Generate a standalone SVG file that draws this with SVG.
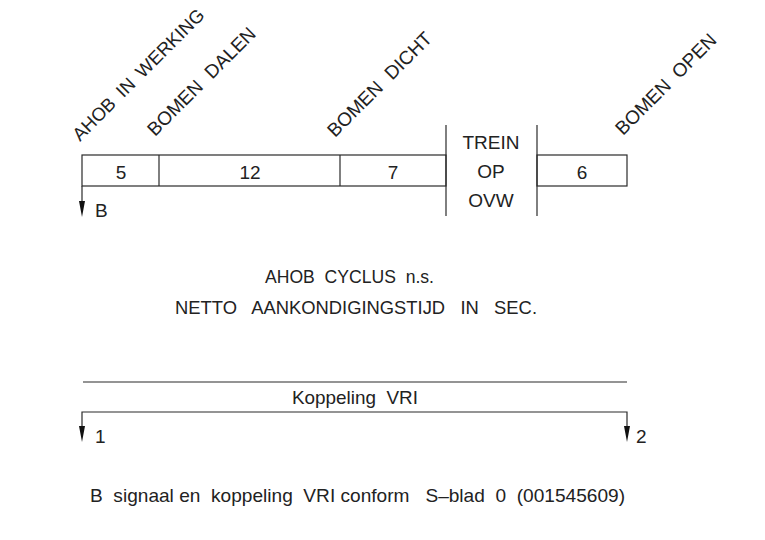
<svg xmlns="http://www.w3.org/2000/svg" width="765" height="540" viewBox="0 0 765 540">
<defs>
<style>
text{font-family:"Liberation Sans",Arial,sans-serif;font-size:19px;fill:#222;white-space:pre;}
.m{text-anchor:middle;}
.ln{stroke:#2a2a2a;stroke-width:1.2;fill:none;}
.ah{fill:#111;}
</style>
</defs>
<rect width="765" height="540" fill="#fff"/>
<g id="labels">
<text transform="translate(80,142) rotate(-45)" style="word-spacing:4px;font-size:18.5px">AHOB IN WERKING</text>
<text transform="translate(155,137) rotate(-45)" style="word-spacing:6px">BOMEN DALEN</text>
<text transform="translate(335,138) rotate(-45)" style="word-spacing:6px">BOMEN DICHT</text>
<text transform="translate(623,136) rotate(-45)" style="word-spacing:5px">BOMEN OPEN</text>
</g>
<g id="bar">
<rect class="ln" x="82" y="155" width="364" height="31"/>
<line class="ln" x1="159" y1="155" x2="159" y2="186"/>
<line class="ln" x1="340" y1="155" x2="340" y2="186"/>
<text class="m" x="121" y="179">5</text>
<text class="m" x="250" y="179">12</text>
<text class="m" x="393" y="179">7</text>
</g>
<g id="trein">
<line class="ln" x1="446" y1="125" x2="446" y2="216"/>
<line class="ln" x1="537" y1="125" x2="537" y2="216"/>
<text class="m" x="491" y="149">TREIN</text>
<text class="m" x="491" y="178">OP</text>
<text class="m" x="491" y="207">OVW</text>
</g>
<g id="open">
<rect class="ln" x="537" y="155" width="90" height="31"/>
<text class="m" x="582" y="179">6</text>
</g>
<g id="connectors">
<line class="ln" x1="82" y1="186" x2="82" y2="204"/>
<path class="ah" d="M79,201 L85,201 L82,217 Z"/>
<line class="ln" x1="83" y1="382" x2="627" y2="382"/>
<path class="ln" d="M82,430 V412 H627 V430"/>
<path class="ah" d="M79,426 L85,426 L82,442 Z"/>
<path class="ah" d="M624,426 L630,426 L627,442 Z"/>
</g>
<g id="texts">
<text x="95" y="217">B</text>
<text x="265" y="283" textLength="169" lengthAdjust="spacingAndGlyphs">AHOB  CYCLUS  n.s.</text>
<text x="175" y="314" textLength="362" lengthAdjust="spacingAndGlyphs">NETTO   AANKONDIGINGSTIJD   IN   SEC.</text>
<text x="292" y="404" textLength="126" lengthAdjust="spacingAndGlyphs">Koppeling  VRI</text>
<text x="95" y="443">1</text>
<text x="636" y="443">2</text>
<text x="90" y="502" textLength="535" lengthAdjust="spacingAndGlyphs">B  signaal en  koppeling  VRI conform   S–blad  0  (001545609)</text>
</g>
</svg>
